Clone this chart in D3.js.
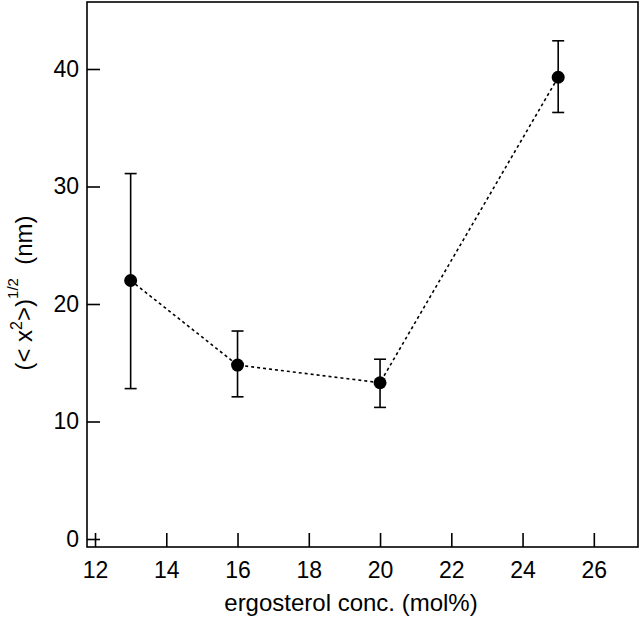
<!DOCTYPE html>
<html>
<head>
<meta charset="utf-8">
<script src="https://cdn.jsdelivr.net/npm/d3@7"></script>
<style>
  body { margin: 0; background: #fff; }
  text { font-family: "Liberation Sans", Arial, sans-serif; fill: #000; }
</style>
</head>
<body>
<script>
// data
var concs = [13, 16, 20, 25];
var sizes = [22.0, 14.8, 13.3, 39.3];
var errHigh = [31.1, 17.7, 15.3, 42.4];
var errLow = [12.8, 12.1, 11.2, 36.3];
var xTicks = [12, 14, 16, 18, 20, 22, 24, 26];
var yTicks = [0, 10, 20, 30, 40];

var W = 640, H = 625;
var plotLeft = 87, plotRight = 638, plotTop = 2, plotBottom = 547;

var svg = d3.select("body").append("svg")
    .attr("width", W)
    .attr("height", H);

var x = d3.scaleLinear().domain([11.775, 27.24]).range([plotLeft, plotRight]);
var y = d3.scaleLinear().domain([0, 40]).range([539, 69]);

// frame
svg.append("rect")
    .attr("x", plotLeft).attr("y", plotTop)
    .attr("width", plotRight - plotLeft).attr("height", plotBottom - plotTop)
    .attr("fill", "none").attr("stroke", "#000").attr("stroke-width", 1.6);

// x axis, ticks pointing in
var xAxis = svg.append("g")
    .attr("transform", "translate(0," + plotBottom + ")")
    .call(d3.axisBottom(x).tickValues(xTicks).tickSizeInner(-14).tickSizeOuter(0).tickPadding(15));
xAxis.select(".domain").remove();
xAxis.selectAll("line").attr("stroke-width", 1.6);
xAxis.selectAll("text").style("font-size", "23px").attr("fill", "#000");

// y axis, ticks pointing in
var yAxis = svg.append("g")
    .attr("transform", "translate(" + plotLeft + ",0)")
    .call(d3.axisLeft(y).tickValues(yTicks).tickSizeInner(-13).tickSizeOuter(0).tickPadding(8));
yAxis.select(".domain").remove();
yAxis.selectAll("line").attr("stroke-width", 1.6);
yAxis.selectAll("text").style("font-size", "23px").attr("fill", "#000");

// dotted connecting line
var line = d3.line()
    .x(function (d, i) { return x(concs[i]); })
    .y(function (d) { return y(d); });
svg.append("path")
    .datum(sizes)
    .attr("d", line)
    .attr("fill", "none")
    .attr("stroke", "#000")
    .attr("stroke-width", 1.6)
    .attr("stroke-dasharray", "3,3");

// error bars
var bars = svg.selectAll(".err")
    .data(concs)
    .enter()
    .append("g")
    .attr("class", "err")
    .attr("stroke", "#000")
    .attr("stroke-width", 1.6);
bars.append("line")
    .attr("x1", function (d) { return x(d); })
    .attr("x2", function (d) { return x(d); })
    .attr("y1", function (d, i) { return y(errHigh[i]); })
    .attr("y2", function (d, i) { return y(errLow[i]); });
bars.append("line")
    .attr("x1", function (d) { return x(d) - 6; })
    .attr("x2", function (d) { return x(d) + 6; })
    .attr("y1", function (d, i) { return y(errHigh[i]); })
    .attr("y2", function (d, i) { return y(errHigh[i]); });
bars.append("line")
    .attr("x1", function (d) { return x(d) - 6; })
    .attr("x2", function (d) { return x(d) + 6; })
    .attr("y1", function (d, i) { return y(errLow[i]); })
    .attr("y2", function (d, i) { return y(errLow[i]); });

// points
svg.selectAll("circle")
    .data(concs)
    .enter()
    .append("circle")
    .attr("cx", function (d) { return x(d); })
    .attr("cy", function (d, i) { return y(sizes[i]); })
    .attr("r", 6.5)
    .attr("fill", "#000");

// axis labels
svg.append("text")
    .attr("x", 351)
    .attr("y", 611)
    .attr("text-anchor", "middle")
    .style("font-size", "24px")
    .text("ergosterol conc. (mol%)");

var yl = svg.append("text")
    .attr("transform", "translate(32,293) rotate(-90)")
    .attr("text-anchor", "middle")
    .style("font-size", "24px")
    .style("white-space", "pre");
yl.append("tspan").text("(< x");
yl.append("tspan").attr("dy", -10).style("font-size", "16px").text("2");
yl.append("tspan").attr("dy", 10).text(">)");
yl.append("tspan").attr("dy", -14).style("font-size", "15px").text("1/2");
yl.append("tspan").attr("dy", 14).text("  (nm)");
</script>
</body>
</html>
